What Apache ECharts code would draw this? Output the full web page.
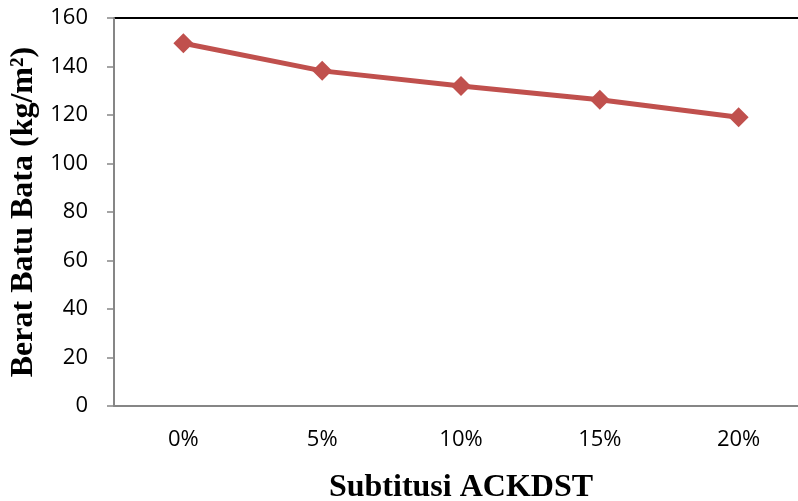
<!DOCTYPE html>
<html>
<head>
<meta charset="utf-8">
<script src="https://cdn.jsdelivr.net/npm/echarts@6/dist/echarts.min.js"></script>
<style>
  html, body { margin: 0; padding: 0; background: #fff; }
  #chart { width: 798px; height: 501px; }
</style>
</head>
<body>
<div id="chart"></div>
<script>
// Brick weight by ACKDST substitution level
var categories = ['0%', '5%', '10%', '15%', '20%'];
var beratValues = [149.6, 138.2, 132.0, 126.3, 119.1];
var yTicks = { min: 0, max: 160, interval: 20 };

var chart = echarts.init(document.getElementById('chart'));
var labelFont = '"Open Sans", "Noto Sans", sans-serif';
var titleFont = '"Liberation Serif", "Times New Roman", serif';

chart.setOption({
  animation: false,
  grid: { left: 114, right: -10, top: 18, bottom: 95, containLabel: false, outerBoundsMode: 'none' },
  xAxis: {
    type: 'category',
    data: categories,
    boundaryGap: true,
    name: 'Subtitusi ACKDST',
    nameLocation: 'middle',
    nameGap: 66,
    nameTextStyle: { fontFamily: titleFont, fontWeight: 'bold', fontSize: 32, color: '#000' },
    axisLine: { lineStyle: { color: '#868686', width: 2 } },
    axisTick: { alignWithLabel: false, length: 7, lineStyle: { color: '#868686', width: 1.5 } },
    axisLabel: { margin: 23, fontFamily: labelFont, fontSize: 22, color: '#000' }
  },
  yAxis: {
    type: 'value',
    min: yTicks.min,
    max: yTicks.max,
    interval: yTicks.interval,
    name: 'Berat Batu Bata (kg/m²)',
    nameLocation: 'middle',
    nameGap: 74,
    nameTextStyle: { fontFamily: titleFont, fontWeight: 'bold', fontSize: 32, color: '#000' },
    axisLine: { show: true, lineStyle: { color: '#868686', width: 2 } },
    axisTick: { show: true, length: 7, lineStyle: { color: '#868686', width: 1.5 } },
    axisLabel: { margin: 26, fontFamily: labelFont, fontSize: 22, color: '#000' },
    splitLine: { show: false }
  },
  graphic: [{
    type: 'line',
    shape: { x1: 114, y1: 18, x2: 798, y2: 18 },
    style: { stroke: '#000', lineWidth: 2 }
  }],
  series: [{
    type: 'line',
    data: beratValues,
    smooth: false,
    symbol: 'diamond',
    symbolSize: 20,
    lineStyle: { color: '#C0504D', width: 5 },
    itemStyle: { color: '#C0504D' }
  }]
});
</script>
</body>
</html>
